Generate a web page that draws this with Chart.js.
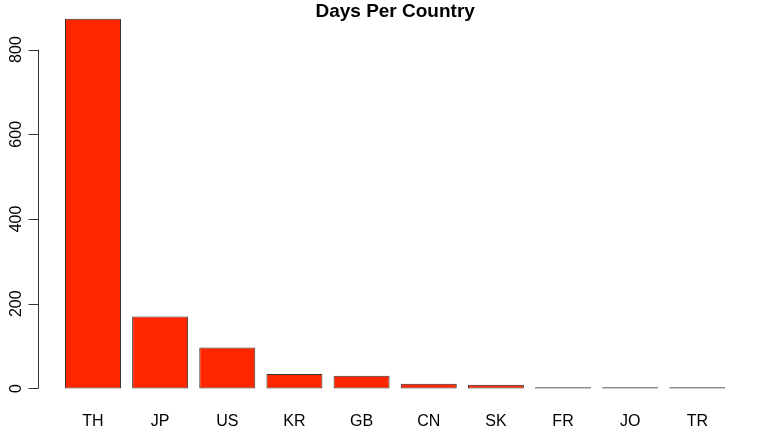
<!DOCTYPE html>
<html>
<head>
<meta charset="utf-8">
<script src="https://cdn.jsdelivr.net/npm/chart.js@4"></script>
<style>
  html, body { margin: 0; padding: 0; background: #fff; }
  #wrap { width: 771px; height: 431px; }
</style>
</head>
<body>
<div id="wrap"><canvas id="c" width="771" height="431"></canvas></div>
<script>
const countries = ['TH', 'JP', 'US', 'KR', 'GB', 'CN', 'SK', 'FR', 'JO', 'TR']
const days = [873, 170, 97, 34, 30, 11, 9, 3, 3, 3]
const yTicks = [0, 200, 400, 600, 800]
const title = 'Days Per Country'

const FONT = '"Liberation Sans", Arial, Helvetica, sans-serif'

// R-style axes: y axis only spans the tick range, labels rotated
const rAxes = {
  id: 'rAxes',
  afterDraw(chart) {
    const { ctx, chartArea } = chart
    const x = chart.scales.x
    const y = chart.scales.y
    const axisX = 38.5
    ctx.save()
    ctx.strokeStyle = '#333'
    ctx.lineWidth = 1
    ctx.beginPath()
    ctx.moveTo(axisX, y.getPixelForValue(yTicks[0]))
    ctx.lineTo(axisX, y.getPixelForValue(yTicks[yTicks.length - 1]))
    yTicks.forEach(v => {
      const py = Math.round(y.getPixelForValue(v)) + 0.5
      ctx.moveTo(axisX, py)
      ctx.lineTo(axisX - 10, py)
    })
    ctx.stroke()

    ctx.fillStyle = '#000'
    ctx.font = '16px ' + FONT
    ctx.textAlign = 'center'
    ctx.textBaseline = 'middle'
    yTicks.forEach(v => {
      ctx.save()
      ctx.translate(17, y.getPixelForValue(v))
      ctx.rotate(-Math.PI / 2)
      ctx.fillText(String(v), 0, 0)
      ctx.restore()
    })
    countries.forEach((c, i) => {
      ctx.fillText(c, x.getPixelForValue(i), 422)
    })

    ctx.font = 'bold 19px ' + FONT
    ctx.fillText(title, (chartArea.left + chartArea.right) / 2, 12)
    ctx.restore()
  }
}

new Chart(document.getElementById('c'), {
  type: 'bar',
  data: {
    labels: countries,
    datasets: [{
      data: days,
      backgroundColor: '#ff2600',
      borderColor: '#333',
      borderWidth: 1,
      borderSkipped: false,
      categoryPercentage: 1,
      barPercentage: 0.834
    }]
  },
  options: {
    responsive: false,
    animation: false,
    layout: { padding: { left: 59.4, right: 40.1, top: 3.8, bottom: 27.7 } },
    plugins: { legend: { display: false }, tooltip: { enabled: false } },
    scales: {
      x: { display: false },
      y: { display: false, min: -35, max: 908 }
    }
  },
  plugins: [rAxes]
})
</script>
</body>
</html>
